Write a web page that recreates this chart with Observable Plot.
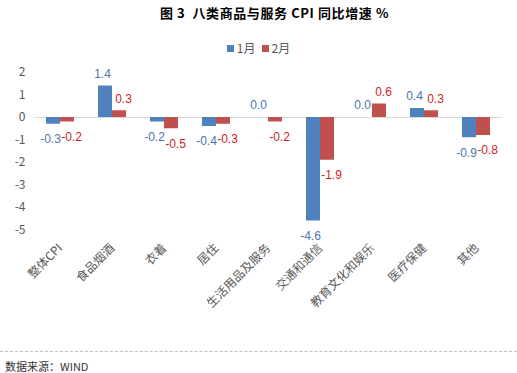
<!DOCTYPE html>
<html>
<head>
<meta charset="utf-8">
<script src="https://cdn.jsdelivr.net/npm/d3@7"></script>
<script src="https://cdn.jsdelivr.net/npm/@observablehq/plot@0.6"></script>
<style>
  body { margin: 0; background: #fff; }
  #wrap { position: relative; width: 517px; height: 373px; overflow: hidden; font-family: "Noto Sans CJK SC", sans-serif; }
  #title { position: absolute; top: 4px; left: 16px; width: 517px; text-align: center; font-size: 13px; font-weight: bold; line-height: 18px; color: #000; letter-spacing: 0.6px; white-space: pre; }
  #legend { position: absolute; top: 40px; left: 0; width: 517px; display: flex; justify-content: center; align-items: center; font-size: 12px; color: #595959; line-height: 16px; gap: 0; }
  #legend .sw { display: inline-block; width: 7px; height: 7px; margin-right: 3px; }
  #legend .item { display: flex; align-items: center; margin: 0 3px; }
  #chart { position: absolute; top: 60px; left: 0; }
  #rule { position: absolute; top: 351px; left: 0; width: 517px; border-top: 1px dashed #BFBFBF; }
  #source { position: absolute; top: 358px; left: 5px; font-size: 11px; line-height: 16px; color: #333; }
</style>
</head>
<body>
<div id="wrap">
  <div id="title"></div>
  <div id="legend"></div>
  <div id="chart"></div>
  <div id="rule"></div>
  <div id="source"></div>
</div>
<script>
const titleText = "图 3  八类商品与服务 CPI 同比增速 %";
const sourceText = "数据来源：WIND";
const categories = ["整体CPI", "食品烟酒", "衣着", "居住", "生活用品及服务", "交通和通信", "教育文化和娱乐", "医疗保健", "其他"];
const series = ["1月", "2月"];
const jan = [-0.3, 1.4, -0.2, -0.4, 0.0, -4.6, 0.0, 0.4, -0.9];
const feb = [-0.2, 0.3, -0.5, -0.3, -0.2, -1.9, 0.6, 0.3, -0.8];
const yTicks = [-5, -4, -3, -2, -1, 0, 1, 2];
const barColors = ["#4F81BD", "#C0504D"];
const labelColors = ["#4A76B0", "#D01E1E"];

document.getElementById("title").textContent = titleText;
document.getElementById("source").textContent = sourceText;
const legend = document.getElementById("legend");
series.forEach((s, i) => {
  const item = document.createElement("span");
  item.className = "item";
  const sw = document.createElement("span");
  sw.className = "sw";
  sw.style.background = barColors[i];
  item.appendChild(sw);
  item.appendChild(document.createTextNode(s));
  legend.appendChild(item);
});

const data = categories.flatMap((c, i) => [
  {cat: c, s: series[0], v: jan[i]},
  {cat: c, s: series[1], v: feb[i]}
]);

function labels(si, positive) {
  return Plot.text(data.filter(d => d.s === series[si] && (positive ? d.v >= 0 : d.v < 0)), {
    fx: "cat", x: "s", y: "v",
    text: d => d.v.toFixed(1),
    dx: si === 0 ? -3 : 4,
    dy: positive ? -12 : 15,
    fill: labelColors[si],
    fontFamily: "Liberation Sans, Arial, sans-serif",
    fontSize: 12
  });
}

const chart = Plot.plot({
  width: 517,
  height: 285,
  marginTop: 12,
  marginBottom: 115.5,
  marginLeft: 33,
  marginRight: 14,
  style: {fontFamily: "Noto Sans CJK SC, sans-serif", fontSize: "12px", color: "#595959", background: "transparent"},
  fx: {domain: categories, padding: 0, label: null, tickRotate: -45, tickSize: 0, tickPadding: 16, axis: "bottom"},
  x: {domain: series, axis: null, paddingInner: 0, paddingOuter: 0.74},
  y: {domain: [-5, 2], ticks: yTicks, tickFormat: d => String(d), label: null, tickSize: 0, tickPadding: 9},
  color: {domain: series, range: barColors},
  marks: [
    Plot.ruleY([0], {stroke: "#D9D9D9", strokeWidth: 1}),
    Plot.barY(data, {fx: "cat", x: "s", y: "v", fill: "s"}),
    labels(0, true), labels(0, false), labels(1, true), labels(1, false)
  ]
});
document.getElementById("chart").appendChild(chart);
</script>
</body>
</html>
